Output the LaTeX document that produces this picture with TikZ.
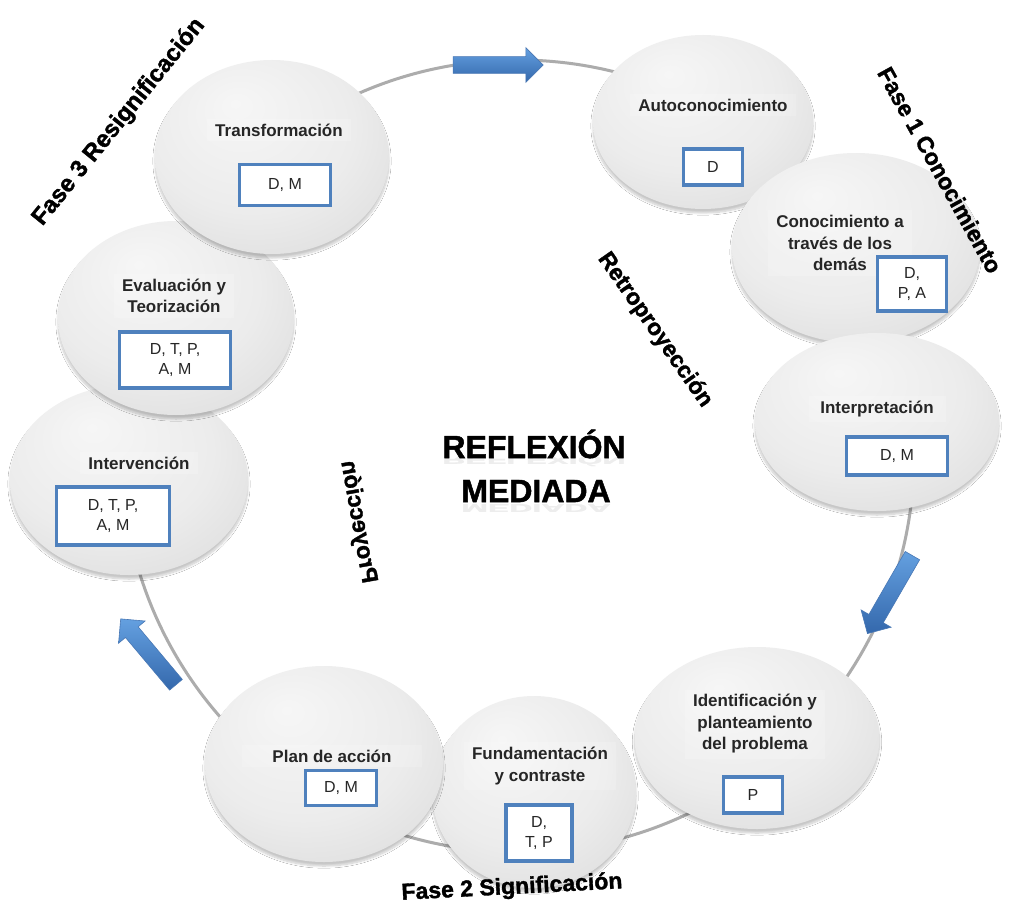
\documentclass[tikz,border=0pt]{standalone}
\usepackage{fontspec}
\setmainfont{Liberation Sans}
\newfontfamily\heavyfont[BoldFeatures={FakeBold=1.5}]{Liberation Sans}
\usetikzlibrary{shapes.geometric,shapes.arrows,shadows.blur}

\definecolor{ringgray}{RGB}{172,172,172}
\definecolor{boxblue}{RGB}{79,129,189}
\definecolor{arrowlight}{RGB}{100,160,224}
\definecolor{arrowdark}{RGB}{52,104,172}
\definecolor{titletext}{RGB}{38,38,38}
\definecolor{bubA}{RGB}{246,246,246}
\definecolor{bubB}{RGB}{236,236,236}
\definecolor{bubC}{RGB}{220,220,220}
\definecolor{bubD}{RGB}{192,192,192}

\pgfdeclareradialshading{bubbleshade}{\pgfpoint{-8bp}{14bp}}{%
  color(0bp)=(bubA); color(22bp)=(bubB); color(38bp)=(bubC); color(50bp)=(bubD)}

\tikzset{
  ring/.style={draw=ringgray, line width=3pt},
  bubble/.style={ellipse, shading=bubbleshade, draw=none, inner sep=0pt,
    blur shadow={shadow xshift=0pt, shadow yshift=-4pt, shadow opacity=22, shadow blur steps=10}},
  steptitle/.style={font=\fontsize{17}{21.5}\selectfont\bfseries, text=titletext,
    align=center, fill=white, fill opacity=0.18, text opacity=1,
    inner xsep=8pt, inner ysep=5pt},
  tagbox/.style={draw=boxblue, line width=3.5pt, fill=white, inner sep=0pt,
    align=center, text=titletext, font=\fontsize{16}{19}\selectfont},
  flowarrow/.style={single arrow, inner xsep=0pt, inner ysep=8pt,
    single arrow head extend=9pt, single arrow head indent=0pt,
    top color=arrowlight, bottom color=arrowdark, draw=arrowdark!90, line width=0.6pt},
  phase/.style={font=\heavyfont\fontsize{23}{26}\selectfont\bfseries, text=black, inner sep=0pt},
  bigtitle/.style={font=\heavyfont\fontsize{32}{36}\selectfont\bfseries, inner sep=0pt}
}

\begin{document}
\begin{tikzpicture}[x=1pt,y=-1pt]
\useasboundingbox (0,0) rectangle (1011,915);
\fill[white] (0,0) rectangle (1011,915);

% cycle ring
\coordinate (ringcentre) at (518,456);
\draw[ring] (ringcentre) circle[radius=396pt];

% flow arrows on the ring
\node[flowarrow, minimum height=90pt] (arrowtop) at (494,65) {};
\node[flowarrow, minimum height=90pt, rotate=-120] (arrowright) at (892,591) {};
\node[flowarrow, minimum height=86pt, rotate=130] (arrowleft) at (151,655) {};

% steps, drawn in order so that each overlaps the previous one
\node[bubble, minimum width=220pt, minimum height=174pt] (b1) at (703,122) {};
\node[steptitle] (t1) at (713,105) {Autoconocimiento};
\node[tagbox, minimum width=59pt, minimum height=36pt] (k1) at (713,167) {D};

\node[bubble, minimum width=248pt, minimum height=190pt] (b2) at (856,248) {};
\node[steptitle] (t2) at (840,243) {Conocimiento a\\través de los\\demás};
\node[tagbox, minimum width=69pt, minimum height=54pt, font=\fontsize{16}{20}\selectfont] (k2) at (912,284) {D,\\P, A};

\node[bubble, minimum width=244pt, minimum height=178pt] (b3) at (877,422) {};
\node[steptitle, minimum width=137pt] (t3) at (877,409) {Interpretación};
\node[tagbox, minimum width=101pt, minimum height=38pt] (k3) at (897,456) {D, M};

\node[bubble, minimum width=245pt, minimum height=182pt] (b4) at (757,738) {};
\node[steptitle] (t4) at (755,724) {Identificación y\\planteamiento\\del problema};
\node[tagbox, minimum width=59pt, minimum height=36pt] (k4) at (753,795) {P};

\node[bubble, minimum width=204pt, minimum height=192pt] (b5) at (534,792) {};
\node[steptitle] (t5) at (540,766) {Fundamentación\\y contraste};
\node[tagbox, minimum width=66pt, minimum height=56pt, font=\fontsize{16}{20}\selectfont] (k5) at (539,833) {D,\\T, P};

\node[bubble, minimum width=238pt, minimum height=196pt] (b6) at (324,764) {};
\node[steptitle, minimum width=180pt] (t6) at (332,756) {Plan de acción};
\node[tagbox, minimum width=71pt, minimum height=35pt] (k6) at (341,788) {D, M};

\node[bubble, minimum width=238pt, minimum height=190pt] (b7) at (129,480) {};
\node[steptitle] (t7) at (139,463) {Intervención};
\node[tagbox, minimum width=113pt, minimum height=58pt, font=\fontsize{16}{20}\selectfont] (k7) at (113,516) {D, T, P,\\A, M};

\node[bubble, minimum width=236pt, minimum height=194pt] (b8) at (176,318) {};
\node[steptitle] (t8) at (174,296) {Evaluación y\\Teorización};
\node[tagbox, minimum width=111pt, minimum height=56pt, font=\fontsize{16}{20}\selectfont] (k8) at (175,360) {D, T, P,\\A, M};

\node[bubble, minimum width=234pt, minimum height=194pt] (b9) at (272,157) {};
\node[steptitle] (t9) at (279,130) {Transformación};
\node[tagbox, minimum width=91pt, minimum height=41pt] (k9) at (285,185) {D, M};

% central title with a faint reflection
\node[bigtitle, text=black!7, yscale=-0.35] (r1shade) at (534,461) {REFLEXIÓN};
\node[bigtitle, text=black!7, yscale=-0.35] (r2shade) at (536,508) {MEDIADA};
\node[bigtitle] (r1) at (534,444) {REFLEXIÓN};
\node[bigtitle] (r2) at (536,491) {MEDIADA};

% phase labels
\node[phase, rotate=-61] (f1) at (940,170) {Fase 1 Conocimiento};
\node[phase, rotate=3] (f2) at (512,888) {Fase 2 Significación};
\node[phase, rotate=51, font=\heavyfont\fontsize{24}{27}\selectfont\bfseries] (f3) at (119,122) {Fase 3 Resignificación};
\node[phase, rotate=-55] (retro) at (655,330) {Retroproyección};
\node[phase] (proy) at (358,522) {\rotatebox{100}{\scalebox{1}[-1]{Proyección}}};
\end{tikzpicture}
\end{document}
